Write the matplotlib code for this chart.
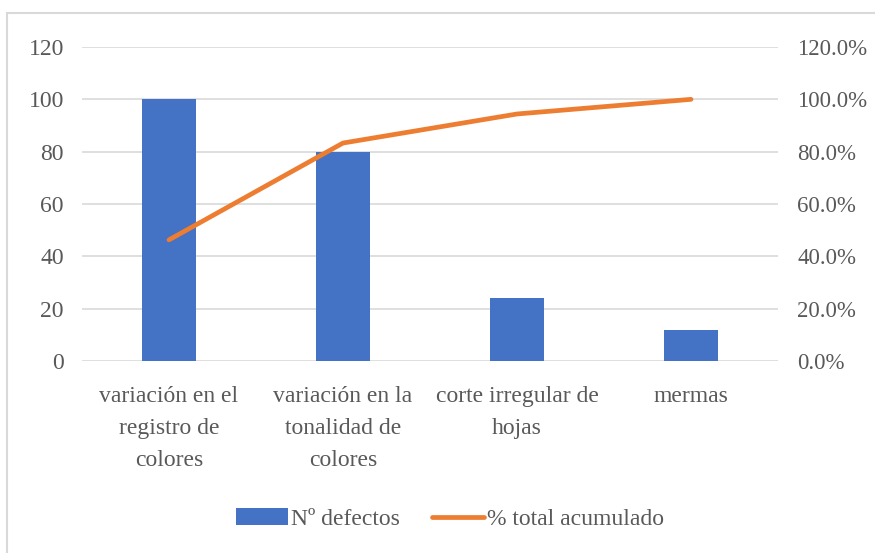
import matplotlib.pyplot as plt
from matplotlib.patches import Rectangle
from matplotlib.ticker import FuncFormatter

# -------- Data --------
categories = ["variación en el\nregistro de\ncolores",
              "variación en la\ntonalidad de\ncolores",
              "corte irregular de\nhojas",
              "mermas"]
defectos = [100, 80, 24, 12]
acumulado = [46.3, 83.3, 94.4, 100.0]

plt.rcParams["font.family"] = ["Liberation Serif", "DejaVu Serif"]
gray = "#595959"

fig = plt.figure(figsize=(8.75, 5.53), dpi=100)
ax = fig.add_axes([82 / 875, 1 - 361 / 553, 696 / 875, 314 / 553])

x = range(len(categories))
bars = ax.bar(x, defectos, width=0.316, color="#4472C4", label="Nº defectos", zorder=2)
ax.set_xlim(-0.5, 3.5)
ax.set_ylim(0, 120)
ax.set_yticks(range(0, 121, 20))
ax.set_xticks(list(x))
ax.set_xticklabels(categories, linespacing=1.7)
ax.grid(axis="y", color="#d9d9d9", linewidth=1.2, zorder=0)
ax.set_axisbelow(True)
for s in ax.spines.values():
    s.set_visible(False)
ax.tick_params(axis="both", length=0, labelsize=17, colors=gray)
ax.tick_params(axis="y", pad=13)
ax.tick_params(axis="x", pad=18)

ax2 = ax.twinx()
line, = ax2.plot(x, acumulado, color="#ED7D31", linewidth=3.4,
                 solid_capstyle="round", label="% total acumulado", zorder=3)
ax2.set_ylim(0, 120)
ax2.set_yticks(range(0, 121, 20))
ax2.yaxis.set_major_formatter(FuncFormatter(lambda v, p: f"{v:.1f}%"))
for s in ax2.spines.values():
    s.set_visible(False)
ax2.tick_params(axis="y", length=0, labelsize=16.5, colors=gray, pad=14)

fig.legend(handles=[bars, line], loc="center", bbox_to_anchor=(450 / 875, 1 - 519 / 553),
           ncol=2, frameon=False, fontsize=17, labelcolor=gray,
           handlelength=2.2, handleheight=0.75, handletextpad=0.15, columnspacing=1.35)

# chart border
fig.patches.append(Rectangle((7 / 875, -0.01), 1, 1 - 13 / 553 + 0.01,
                             transform=fig.transFigure, fill=False,
                             edgecolor="#d9d9d9", linewidth=1.5))

fig.savefig("out.png", dpi=100)
